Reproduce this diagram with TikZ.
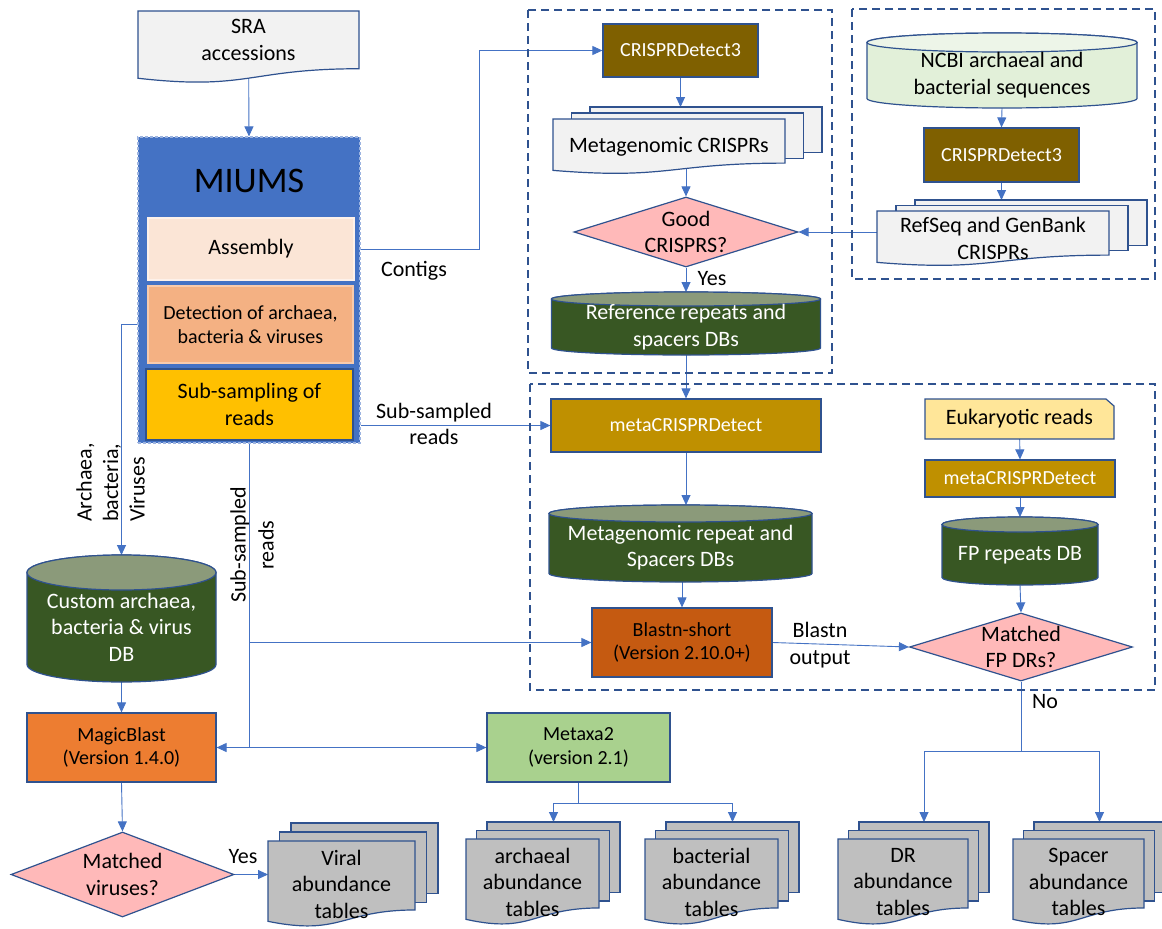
\documentclass[tikz,border=0pt]{standalone}
\usepackage{fontspec}
\setmainfont{Carlito}
\usepackage{tikz}
\usetikzlibrary{shapes.geometric}
\usetikzlibrary{arrows.meta}
\usetikzlibrary{backgrounds}
\usepackage{xcolor}

\definecolor{edgeblue}{HTML}{2F528F}
\definecolor{linkblue}{HTML}{4472C4}
\definecolor{miumsblue}{HTML}{4472C4}
\definecolor{miumsedge}{HTML}{9DB4E0}
\definecolor{asmfill}{HTML}{FBE5D6}
\definecolor{asmedge}{HTML}{FDF1EA}
\definecolor{detfill}{HTML}{F4B183}
\definecolor{detedge}{HTML}{F8CBAD}
\definecolor{subfill}{HTML}{FFC000}
\definecolor{docgray}{HTML}{F2F2F2}
\definecolor{tabgray}{HTML}{BFBFBF}
\definecolor{brownfill}{HTML}{7F6000}
\definecolor{goldfill}{HTML}{BF9000}
\definecolor{rustfill}{HTML}{C55A11}
\definecolor{orangefill}{HTML}{ED7D31}
\definecolor{greenfill}{HTML}{A9D18E}
\definecolor{eukfill}{HTML}{FFE699}
\definecolor{pinkfill}{HTML}{FFB9B9}
\definecolor{dbdark}{HTML}{385723}
\definecolor{dbdarktop}{HTML}{8B9A7A}
\definecolor{dblight}{HTML}{E2F0D9}
\definecolor{dblighttop}{HTML}{EDF5E8}

\tikzset{
  every node/.style={font=\fontsize{22}{26.5}\selectfont},
  shapeline/.style={draw=edgeblue, line width=1.2pt},
  box/.style={shapeline, rectangle, align=center, inner sep=2pt, font=\fontsize{20}{23.5}\selectfont},
  tool/.style={box, text=white},
  decision/.style={shapeline, diamond, fill=pinkfill, inner sep=0pt},
  txt/.style={align=center, inner sep=0pt},
  miumsbox/.style={rectangle, fill=miumsblue, draw=miumsedge, line width=1.2pt, dash pattern=on 3pt off 2pt},
  conn/.style={draw=linkblue, line width=0.9pt, -{Triangle[length=10pt,width=9pt]}},
  link/.style={draw=linkblue, line width=0.9pt},
  groupframe/.style={draw=edgeblue, line width=1.5pt, dash pattern=on 8pt off 5pt},
  darkbody/.style={fill=dbdark}, darktop/.style={fill=dbdarktop}, darktext/.style={text=white},
  lightbody/.style={fill=dblight}, lighttop/.style={fill=dblighttop}, lighttext/.style={text=black}
}

% page with a wavy bottom: x, y, width, height
\newcommand{\docpath}[4]{({#1},{#2}) -- ({#1+#3},{#2}) -- ({#1+#3},{#2+0.802*#4})
  .. controls ({#1+0.5*#3},{#2+0.802*#4}) and ({#1+0.5*#3},{#2+1.1075*#4}) .. ({#1},{#2+0.934*#4}) -- cycle}

% stack of three pages: name, x, y, width, height, dx, dy, fill, text
\newcommand{\multidoc}[9]{
  \filldraw[shapeline, fill=#8] ({#2+2*#6},{#3}) rectangle ++(#4,{0.82*#5});
  \filldraw[shapeline, fill=#8] ({#2+#6},{#3+#7}) rectangle ++(#4,{0.82*#5});
  \filldraw[shapeline, fill=#8] \docpath{#2}{#3+2*#7}{#4}{#5};
  \node[txt] (#1) at ({#2+0.5*#4},{#3+2*#7+0.5*#5}) {#9};
  \coordinate (#1-top) at ({#2+2*#6+0.5*#4},{#3});
  \coordinate (#1-left) at ({#2},{#3+2*#7+0.5*#5});
}

% database drum: name, cx, top, bottom, half width, end radius, kind, text
\newcommand{\dbcyl}[8]{
  \filldraw[shapeline, #7body] ({#2-#5},{#3+#6}) -- ({#2-#5},{#4-#6})
    arc[start angle=180, end angle=360, x radius=#5pt, y radius=#6pt]
    -- ({#2+#5},{#3+#6})
    arc[start angle=0, end angle=180, x radius=#5pt, y radius=#6pt] -- cycle;
  \filldraw[shapeline, #7top] (#2,{#3+#6}) ellipse [x radius=#5pt, y radius=#6pt];
  \node[txt, #7text] (#1) at (#2,{(#3+#6+#4)/2}) {#8};
  \coordinate (#1-top) at (#2,#3);
  \coordinate (#1-bot) at (#2,#4);
}

\begin{document}
\begin{tikzpicture}[x=1pt, y=-1pt]

\useasboundingbox (0,0) rectangle (1162,929);

% group frames
\draw[groupframe] (528,10) rectangle (832,373);
\draw[groupframe] (852,9) rectangle (1155,279);
\draw[groupframe] (530,384) rectangle (1155,690);

% input and MIUMS
\filldraw[shapeline, fill=docgray] \docpath{138}{11}{221}{72};
\node[txt] (sra) at (248.5,40) {SRA\\accessions};

\node[miumsbox, minimum width=222, minimum height=306] (miums) at (249,290) {};
\node[txt, font=\fontsize{36}{40}\selectfont] (miumstitle) at (249,181) {MIUMS};
\node[box, fill=asmfill, draw=asmedge, line width=1.5pt, font=\fontsize{22}{26.5}\selectfont, minimum width=206, minimum height=62] (asm) at (251,249) {Assembly};
\node[box, fill=detfill, draw=detedge, line width=1.5pt, minimum width=205, minimum height=77] (detect) at (250.5,324.5) {Detection of archaea,\\bacteria \& viruses};
\node[box, fill=subfill, line width=2pt, font=\fontsize{22}{26.5}\selectfont, minimum width=207, minimum height=71] (subsamp) at (249.5,404.5) {Sub-sampling of\\reads};

% reference CRISPRs from contigs
\node[tool, fill=brownfill, minimum width=155, minimum height=53] (cdtop) at (680.5,50.5) {CRISPRDetect3};
\multidoc{mcrispr}{553}{107}{232}{55}{18.5}{6}{docgray}{Metagenomic CRISPRs}
\node[decision, minimum width=224, minimum height=70] (good) at (686,232) {};
\node[txt] (goodtxt) at (good) {Good\\CRISPRS?};
\dbcyl{refdb}{686}{292}{355}{134.5}{7}{dark}{Reference repeats and\\spacers DBs}

% NCBI CRISPRs
\dbcyl{ncbidb}{1002}{33}{108}{135}{9.5}{light}{NCBI archaeal and\\bacterial sequences}
\node[tool, fill=brownfill, minimum width=155, minimum height=54] (cdref) at (1001.5,155) {CRISPRDetect3};
\multidoc{refseq}{877}{200}{232}{55}{19}{5.5}{docgray}{RefSeq and GenBank\\CRISPRs}

% reads
\node[tool, fill=goldfill, minimum width=270, minimum height=53] (mcd) at (686,425.5) {metaCRISPRDetect};
\dbcyl{metadb}{680.5}{505}{582}{131.5}{8.5}{dark}{Metagenomic repeat and\\Spacers DBs}
\node[box, fill=rustfill, minimum width=180, minimum height=69] (blast) at (682,642.5) {Blastn-short\\(Version 2.10.0+)};

\filldraw[shapeline, fill=eukfill] (925,399) -- (1106,399) -- (1114,406) -- (1114,439) -- (925,439) -- cycle;
\node[txt] (euk) at (1019.5,419) {Eukaryotic reads};
\node[tool, fill=goldfill, minimum width=190, minimum height=37] (mcd2) at (1020,478.5) {metaCRISPRDetect};
\dbcyl{fpdb}{1020}{517}{585}{78}{7.5}{dark}{FP repeats DB}
\node[decision, minimum width=223, minimum height=68] (fpdr) at (1021,647) {};
\node[txt] (fpdrtxt) at (fpdr) {Matched\\FP DRs?};

% viruses
\dbcyl{custdb}{121.5}{555}{682}{94.5}{17.5}{dark}{Custom archaea,\\bacteria \& virus\\DB}
\node[box, fill=orangefill, minimum width=189, minimum height=69] (magic) at (121.5,747.5) {MagicBlast\\(Version 1.4.0)};
\node[decision, minimum width=223, minimum height=85] (vir) at (122.5,874.5) {};
\node[txt] (virtxt) at (vir) {Matched\\viruses?};
\multidoc{viraltab}{268}{823}{147}{86}{11.5}{9}{tabgray}{Viral\\abundance\\tables}

% taxonomy
\node[box, fill=greenfill, minimum width=183, minimum height=69] (metaxa) at (578.5,747.5) {Metaxa2\\(version 2.1)};
\multidoc{archtab}{466}{822}{133}{86}{10.5}{8.5}{tabgray}{archaeal\\abundance\\tables}
\multidoc{bacttab}{645}{822}{133}{86}{10.5}{8.5}{tabgray}{bacterial\\abundance\\tables}
\multidoc{drtab}{838}{822}{130}{86}{10.5}{8.5}{tabgray}{DR\\abundance\\tables}
\multidoc{sptab}{1013}{822}{131}{86}{10.5}{8.5}{tabgray}{Spacer\\abundance\\tables}

% labels
\node[txt] (contigs) at (414,271) {Contigs};
\node[txt] (yesgood) at (712,279) {Yes};
\node[txt] (sublabel) at (434,424) {Sub-sampled\\reads};
\node[txt, rotate=90, align=left, anchor=west] (abvlabel) at (110.5,522) {Archaea,\\bacteria,\\Viruses};
\node[txt, rotate=90, font=\fontsize{22}{28}\selectfont] (subvlabel) at (252,545) {Sub-sampled\\reads};
\node[txt] (blastout) at (820,645) {Blastn\\output};
\node[txt] (nolabel) at (1045,702) {No};
\node[txt] (yesvir) at (243,857) {Yes};

% connectors
\begin{scope}[on background layer]
\fill[white] (0,0) rectangle (1162,929);

\draw[conn] (sra) -- (miums.north);
\draw[conn] (miums.east |- asm.east) -- ++(119,0) |- (cdtop.west);
\draw[conn] (miums.west |- detect.west) -| (custdb-top);
\draw[conn] (miums.east |- mcd.west) -- (mcd.west);
\draw[conn] (miums.south) |- (blast.west);
\draw[conn] (miums.south) |- (magic.east);
\draw[conn] (miums.south) |- (metaxa.west);

\draw[conn] (cdtop.south) -- (cdtop.south |- mcrispr-top);
\draw[conn] (good.north |- mcrispr.south) -- (good.north);
\draw[conn] (refseq.west |- good.east) -- (good.east);
\draw[conn] (good.south) -- (refdb-top);
\draw[conn] (refdb-bot) -- (mcd.north);
\draw[conn] (ncbidb-bot) -- (cdref.north);
\draw[conn] (cdref.south) -- (cdref.south |- refseq-top);

\draw[conn] (mcd.south) -- (mcd.south |- metadb-top);
\draw[conn] (blast.north |- metadb-bot) -- (blast.north);
\draw[conn] (euk.south) -- (mcd2.north);
\draw[conn] (mcd2.south) -- (fpdb-top);
\draw[conn] (fpdb-bot) -- (fpdr.north);
\draw[conn] (blast.east) -- (fpdr.west);
\draw[link] (fpdr.south) -- ++(0,70) coordinate (nosplit);
\draw[conn] (nosplit) -| (drtab-top);
\draw[conn] (nosplit) -| (sptab-top);

\draw[conn] (custdb-bot) -- (magic.north);
\draw[conn] (magic.south) -- (vir.north);
\draw[conn] (vir.east) -- (vir.east -| viraltab-left);
\draw[link] (metaxa.south) -- ++(0,21) coordinate (mxsplit);
\draw[conn] (mxsplit) -| (archtab-top);
\draw[conn] (mxsplit) -| (bacttab-top);
\end{scope}

\end{tikzpicture}
\end{document}
